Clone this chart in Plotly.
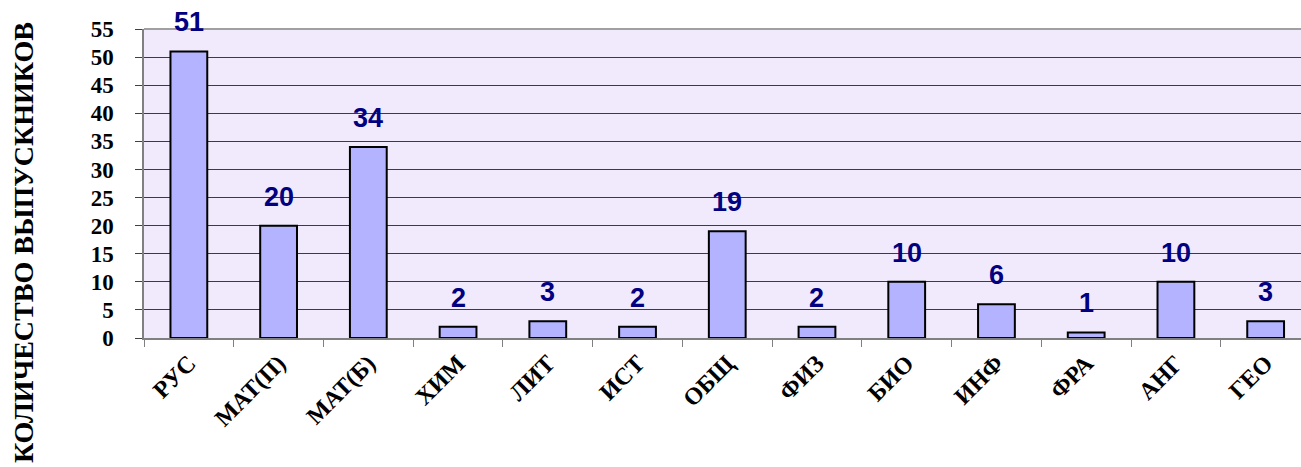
import plotly.graph_objects as go

categories = ["РУС", "МАТ(П)", "МАТ(Б)", "ХИМ", "ЛИТ", "ИСТ", "ОБЩ", "ФИЗ", "БИО", "ИНФ", "ФРА", "АНГ", "ГЕО"]
values = [51, 20, 34, 2, 3, 2, 19, 2, 10, 6, 1, 10, 3]
y_ticks = list(range(0, 56, 5))
y_title = "КОЛИЧЕСТВО ВЫПУСКНИКОВ"

serif = "'Times New Roman', 'Liberation Serif', 'DejaVu Serif', serif"
sans = "Arial, 'Liberation Sans', sans-serif"

fig = go.Figure()
fig.add_trace(go.Bar(
    x=categories, y=values,
    width=0.41,
    marker=dict(color="#B3B3FF", line=dict(color="#000000", width=2)),
    showlegend=False,
    hoverinfo="x+y",
))

annotations = []
for c, v in zip(categories, values):
    annotations.append(dict(
        x=c, y=v, xref="x", yref="y", text=str(v), showarrow=False,
        yanchor="bottom", yshift=12,
        font=dict(family=sans, size=27, color="#000080", weight="bold"),
    ))
annotations.append(dict(
    xref="paper", yref="paper", x=(23 - 144) / 1157, y=(338 - 243) / 309,
    text=y_title, textangle=-90, showarrow=False,
    xanchor="center", yanchor="middle",
    font=dict(family=serif, size=28, color="#000000", weight="bold"),
))

fig.update_layout(
    width=1301, height=467,
    margin=dict(l=144, r=0, t=29, b=129, pad=0),
    paper_bgcolor="#FFFFFF",
    plot_bgcolor="#F1EAFC",
    annotations=annotations,
)
fig.update_xaxes(
    range=[-0.5, 12.394],
    showgrid=False,
    showline=True, linecolor="#808080", linewidth=1.5,
    ticks="outside", tickson="boundaries", ticklen=7, tickcolor="#808080",
    tickangle=-45,
    tickfont=dict(family=serif, size=24, color="#000000", weight="bold"),
    zeroline=False,
)
fig.update_yaxes(
    range=[0, 55],
    tickvals=y_ticks,
    showgrid=True, gridcolor="#3C3C3C", gridwidth=1,
    showline=True, linecolor="#808080", linewidth=1.5,
    ticks="outside", ticklen=7, tickcolor="#404040",
    ticklabelstandoff=17,
    tickfont=dict(family=serif, size=23, color="#000000", weight="bold"),
    zeroline=False,
)
fig.add_shape(type="line", xref="paper", yref="paper", x0=0, x1=1, y0=1, y1=1,
              line=dict(color="#A0A0A0", width=2))

# remove the browser's default 8px body margin so the figure fills the window exactly
fig.write_html("out.html", config={"displayModeBar": False},
               post_script="document.body.style.margin='0';document.body.style.overflow='hidden';")
